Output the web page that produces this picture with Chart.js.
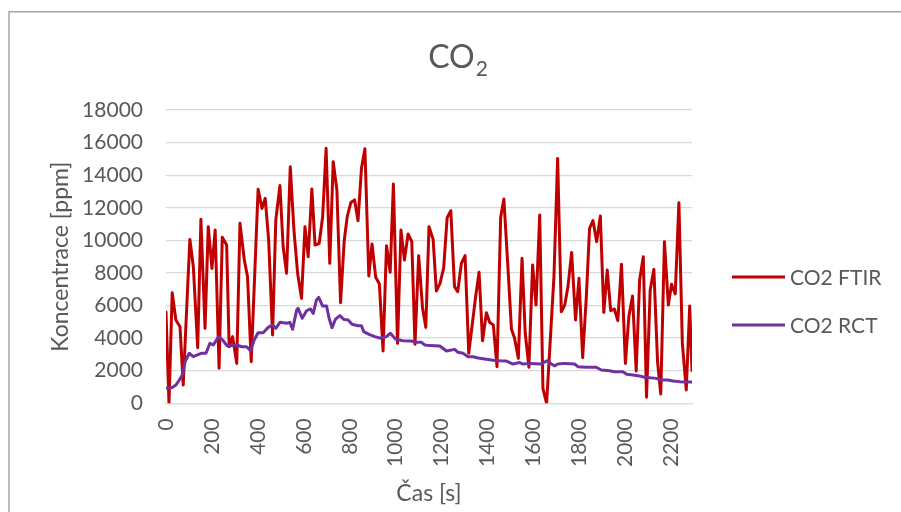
<!DOCTYPE html>
<html>
<head>
<meta charset="utf-8">
<script src="https://cdn.jsdelivr.net/npm/chart.js@4.4.1/dist/chart.umd.min.js"></script>
<style>
  html, body { margin: 0; padding: 0; background: #ffffff; }
  canvas { display: block; }
</style>
</head>
<body>
<canvas id="chart" width="901" height="512"></canvas>
<script>
// CO2 concentration over time, FTIR analyser vs. RCT reference
const ftirTime = [0, 13, 27, 43, 61, 75, 90, 104, 119, 138, 152, 170, 184, 200, 214, 231, 245, 264, 275, 290,
  308, 322, 341, 355, 371, 401, 418, 432, 447, 464, 478, 496, 510, 525, 541, 557, 573, 590, 605, 619,
  635, 649, 667, 682, 697, 713, 728, 744, 760, 776, 789, 805, 821, 836, 851, 866, 883, 897, 913, 929,
  945, 960, 976, 990, 1008, 1023, 1038, 1054, 1070, 1084, 1100, 1117, 1131, 1145, 1163, 1177, 1193, 1209, 1224, 1240,
  1256, 1270, 1286, 1302, 1318, 1334, 1348, 1363, 1378, 1395, 1409, 1425, 1441, 1457, 1471, 1488, 1504, 1517, 1534, 1550,
  1564, 1580, 1596, 1611, 1627, 1641, 1657, 1673, 1689, 1705, 1721, 1736, 1750, 1766, 1783, 1798, 1814, 1830, 1844, 1859,
  1875, 1891, 1906, 1921, 1936, 1952, 1967, 1983, 2000, 2015, 2031, 2047, 2062, 2078, 2092, 2108, 2124, 2140, 2154, 2170,
  2187, 2201, 2217, 2233, 2248, 2265, 2280, 2290];
const ftirValue = [5600, 0, 6790, 5110, 4700, 1120, 5800, 10060, 8380, 3410, 11290, 4600, 10840, 8280, 10630, 2150, 10190, 9710, 3470, 4090,
  2450, 11050, 8790, 7770, 2550, 13130, 11960, 12580, 10000, 4190, 11250, 13360, 9610, 7980, 14520, 10630, 7980, 6440, 10840, 9000,
  13150, 9710, 9820, 11450, 15650, 8590, 14830, 13090, 6170, 10000, 11450, 12330, 12480, 11210, 14420, 15620, 7810, 9780, 7730, 7320,
  3210, 9670, 8040, 13460, 3680, 10630, 8790, 10390, 9920, 3620, 9060, 5830, 4660, 10840, 10060, 6890, 7360, 8320, 11390, 11820,
  7160, 6850, 8590, 9060, 3070, 4910, 6540, 8040, 3840, 5560, 4970, 4810, 2250, 11410, 12540, 8500, 4540, 4030, 2760, 8900,
  4300, 2210, 8490, 6030, 11560, 920, 0, 3880, 7770, 15030, 5620, 6030, 7160, 9260, 5110, 7670, 2800, 6540, 10740, 11210,
  9920, 11490, 5580, 8180, 5680, 5790, 5070, 8530, 2450, 5310, 6580, 1980, 7570, 9000, 370, 6950, 8220, 2550, 570, 9920,
  6030, 7300, 6710, 12310, 3680, 820, 5970, 2000];

const rctTime = [0, 25, 43, 58, 71, 83, 101, 119, 134, 155, 174, 191, 206, 229, 249, 267, 308, 329, 351, 368,
  384, 401, 423, 445, 464, 478, 496, 525, 539, 551, 569, 575, 593, 612, 629, 641, 655, 665, 682, 699,
  710, 723, 738, 757, 774, 793, 810, 836, 851, 861, 884, 909, 934, 960, 977, 1000, 1032, 1069, 1087, 1112,
  1127, 1148, 1192, 1221, 1257, 1271, 1293, 1315, 1337, 1359, 1395, 1424, 1453, 1482, 1511, 1540, 1554, 1583, 1634, 1659,
  1678, 1692, 1706, 1736, 1779, 1793, 1830, 1873, 1895, 1931, 1953, 1989, 2006, 2032, 2062, 2083, 2134, 2156, 2185, 2207,
  2236, 2265, 2290];
const rctValue = [920, 950, 1120, 1430, 1740, 2550, 3070, 2860, 2960, 3070, 3070, 3680, 3580, 4090, 3840, 3520, 3580, 3470, 3470, 3230,
  3880, 4330, 4330, 4660, 4810, 4600, 4970, 4910, 4970, 4540, 5730, 5830, 5220, 5680, 5790, 5520, 6340, 6500, 5970, 5970,
  5220, 4640, 5170, 5380, 5150, 5110, 4850, 4760, 4760, 4400, 4230, 4090, 3990, 4090, 4300, 3930, 3840, 3820, 3740, 3740,
  3580, 3540, 3520, 3210, 3310, 3130, 3070, 2860, 2860, 2780, 2700, 2640, 2610, 2590, 2410, 2500, 2410, 2450, 2410, 2610,
  2410, 2300, 2410, 2450, 2410, 2250, 2210, 2210, 2040, 2000, 1940, 1940, 1780, 1740, 1680, 1600, 1530, 1430, 1430, 1370,
  1330, 1310, 1310];

const xTicks = [0, 200, 400, 600, 800, 1000, 1200, 1400, 1600, 1800, 2000, 2200];
const yTicks = [0, 2000, 4000, 6000, 8000, 10000, 12000, 14000, 16000, 18000];
const seriesNames = ['CO2 FTIR', 'CO2 RCT'];
const seriesColors = ['#c00000', '#7030a0'];
const titleMain = 'CO';
const titleSub = '2';
const xTitle = 'Čas [s]';
const yTitle = 'Koncentrace [ppm]';

const TEXT = '#595959';
const FONT = 'Lato';

const toPoints = (xs, ys) => xs.map((x, i) => ({ x: x, y: ys[i] }));

// white background plus the outer chart frame
const framePlugin = {
  id: 'frame',
  beforeDraw(chart) {
    const ctx = chart.ctx;
    ctx.save();
    ctx.fillStyle = '#ffffff';
    ctx.fillRect(0, 0, chart.width, chart.height);
    ctx.strokeStyle = '#a6a6a6';
    ctx.lineWidth = 1.5;
    ctx.strokeRect(9, 11.8, chart.width + 20, chart.height + 40);
    ctx.restore();
  }
};

// chart title with a subscript digit
const titlePlugin = {
  id: 'subTitle',
  afterDraw(chart) {
    const ctx = chart.ctx;
    ctx.save();
    ctx.fillStyle = TEXT;
    ctx.textBaseline = 'alphabetic';
    ctx.textAlign = 'left';
    ctx.font = '32px ' + FONT;
    const wMain = ctx.measureText(titleMain).width;
    ctx.font = '21px ' + FONT;
    const wSub = ctx.measureText(titleSub).width;
    const cx = 458;
    const x0 = cx - (wMain + wSub + 1) / 2;
    ctx.font = '32px ' + FONT;
    ctx.fillText(titleMain, x0, 68);
    ctx.font = '21px ' + FONT;
    ctx.fillText(titleSub, x0 + wMain + 1, 76);
    ctx.restore();
  }
};

// legend on the right, line samples with labels
const legendPlugin = {
  id: 'sideLegend',
  afterDraw(chart) {
    const ctx = chart.ctx;
    ctx.save();
    ctx.font = '21px ' + FONT;
    ctx.textAlign = 'left';
    ctx.textBaseline = 'middle';
    chart.data.datasets.forEach((ds, i) => {
      const y = 277 + i * 48;
      ctx.strokeStyle = ds.borderColor;
      ctx.lineWidth = 3;
      ctx.beginPath();
      ctx.moveTo(732, y);
      ctx.lineTo(785, y);
      ctx.stroke();
      ctx.fillStyle = TEXT;
      ctx.fillText(ds.label, 790, y + 1);
    });
    ctx.restore();
  }
};

new Chart(document.getElementById('chart'), {
  type: 'line',
  data: {
    datasets: [
      {
        label: seriesNames[0],
        data: toPoints(ftirTime, ftirValue),
        borderColor: seriesColors[0],
        backgroundColor: seriesColors[0],
        borderWidth: 3,
        pointRadius: 0,
        tension: 0,
        borderJoinStyle: 'round',
        borderCapStyle: 'round',
        order: 1
      },
      {
        label: seriesNames[1],
        data: toPoints(rctTime, rctValue),
        borderColor: seriesColors[1],
        backgroundColor: seriesColors[1],
        borderWidth: 3,
        pointRadius: 0,
        tension: 0,
        borderJoinStyle: 'round',
        borderCapStyle: 'round',
        order: 0
      }
    ]
  },
  options: {
    responsive: false,
    animation: false,
    events: [],
    layout: { padding: { left: 0, top: 110, right: 209, bottom: 0 } },
    plugins: {
      legend: { display: false },
      title: { display: false },
      tooltip: { enabled: false }
    },
    scales: {
      x: {
        type: 'linear',
        min: 0,
        max: 2290,
        afterBuildTicks(scale) { scale.ticks = xTicks.map(v => ({ value: v })); },
        afterFit(scale) { scale.height = 108.7; },
        grid: { display: false, drawTicks: false },
        border: { display: true, color: '#d9d9d9', width: 1.3 },
        ticks: {
          autoSkip: false,
          minRotation: 90,
          maxRotation: 90,
          padding: 15,
          color: TEXT,
          font: { family: FONT, size: 21 },
          callback: v => String(v)
        },
        title: {
          display: true,
          text: xTitle,
          color: TEXT,
          font: { family: FONT, size: 23 },
          padding: { top: 0, bottom: 5 }
        }
      },
      y: {
        type: 'linear',
        min: 0,
        max: 18000,
        afterBuildTicks(scale) { scale.ticks = yTicks.map(v => ({ value: v })); },
        afterFit(scale) { scale.width = 166; },
        grid: { color: '#d9d9d9', lineWidth: 1.3, drawTicks: false },
        border: { display: false },
        ticks: {
          padding: 23,
          color: TEXT,
          font: { family: FONT, size: 21 },
          callback: v => String(v)
        },
        title: {
          display: true,
          text: yTitle,
          color: TEXT,
          font: { family: FONT, size: 23 },
          padding: { top: 47, bottom: 0 }
        }
      }
    }
  },
  plugins: [framePlugin, titlePlugin, legendPlugin]
});
</script>
</body>
</html>
